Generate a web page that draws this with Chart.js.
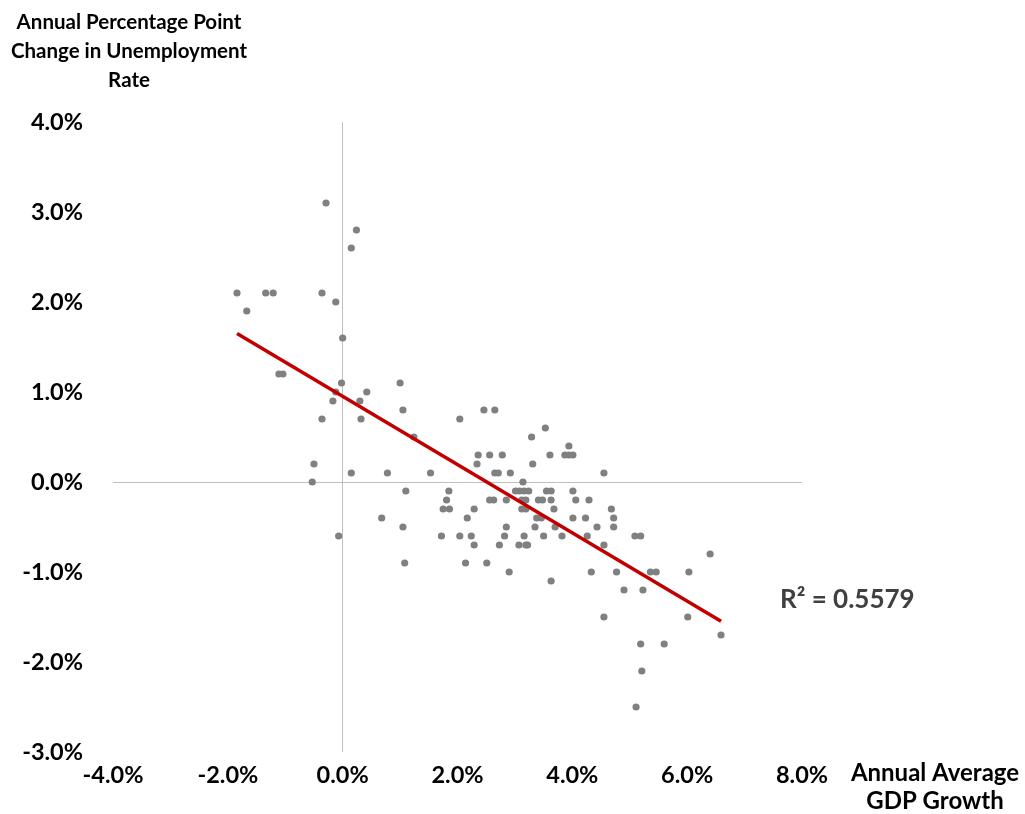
<!DOCTYPE html>
<html>
<head>
<meta charset="utf-8">
<script src="https://cdn.jsdelivr.net/npm/chart.js@4.4.1/dist/chart.umd.min.js"></script>
<style>
  html, body { margin: 0; padding: 0; background: #fff; }
  canvas { display: block; }
</style>
</head>
<body>
<canvas id="okunChart" width="1025" height="814"></canvas>
<script>
// GDP growth (%) and change in unemployment rate (pp)
const gdpGrowth = [
  -1.84, -1.67, -1.34, -1.21, -1.11, -1.04, -0.36, -0.29, -0.12, 0.0,
  0.15, 0.24, -0.02, -0.12, -0.17, 0.3, 0.42, 1.0, 1.05, -0.36,
  0.32, 1.24, -0.5, -0.53, 0.15, 0.78, 1.53, 1.1, 1.85, 1.81,
  1.75, 1.86, 0.68, 1.05, -0.07, 1.08,
  2.04, 2.46, 2.65, 3.29, 3.53, 3.94, 2.36, 2.56, 2.78, 3.61,
  3.87, 3.94, 4.01, 2.34, 3.31, 2.65, 2.71, 2.92, 4.55, 3.14,
  3.01, 3.08, 3.16, 3.24, 3.55, 3.63, 4.01, 2.56, 2.63, 2.85,
  3.12, 3.19, 3.41, 3.48, 3.63, 4.06, 4.29, 2.29, 3.12, 3.19,
  3.68, 4.68, 2.17, 3.38, 3.46, 4.01, 4.23, 4.72, 2.85, 3.35,
  3.7, 4.43, 4.72, 1.72, 2.04, 2.24, 2.82, 3.16, 3.5, 3.82,
  4.26, 5.09, 5.19, 2.29, 2.73, 3.07, 3.19, 3.22, 4.55, 2.14,
  2.51, 2.9, 4.33, 4.77, 5.36, 5.46, 6.03, 6.4, 3.63, 4.9,
  5.23, 4.55, 6.01, 5.19, 5.6, 6.59, 5.21, 5.11
];
const unempChange = [
  2.1, 1.9, 2.1, 2.1, 1.2, 1.2, 2.1, 3.1, 2.0, 1.6,
  2.6, 2.8, 1.1, 1.0, 0.9, 0.9, 1.0, 1.1, 0.8, 0.7,
  0.7, 0.5, 0.2, 0.0, 0.1, 0.1, 0.1, -0.1, -0.1, -0.2,
  -0.3, -0.3, -0.4, -0.5, -0.6, -0.9,
  0.7, 0.8, 0.8, 0.5, 0.6, 0.4, 0.3, 0.3, 0.3, 0.3,
  0.3, 0.3, 0.3, 0.2, 0.2, 0.1, 0.1, 0.1, 0.1, 0.0,
  -0.1, -0.1, -0.1, -0.1, -0.1, -0.1, -0.1, -0.2, -0.2, -0.2,
  -0.2, -0.2, -0.2, -0.2, -0.2, -0.2, -0.2, -0.3, -0.3, -0.3,
  -0.3, -0.3, -0.4, -0.4, -0.4, -0.4, -0.4, -0.4, -0.5, -0.5,
  -0.5, -0.5, -0.5, -0.6, -0.6, -0.6, -0.6, -0.6, -0.6, -0.6,
  -0.6, -0.6, -0.6, -0.7, -0.7, -0.7, -0.7, -0.7, -0.7, -0.9,
  -0.9, -1.0, -1.0, -1.0, -1.0, -1.0, -1.0, -0.8, -1.1, -1.2,
  -1.2, -1.5, -1.5, -1.8, -1.8, -1.7, -2.1, -2.5
];
const xTicks = [-4, -2, 0, 2, 4, 6, 8];
const yTicks = [-3, -2, -1, 0, 1, 2, 3, 4];
const yTitle = ['Annual Percentage Point', 'Change in Unemployment', 'Rate'];
const xTitle = ['Annual Average', 'GDP Growth'];
const rSquaredLabel = 'R\u00B2 = 0.5579';

const points = gdpGrowth.map((g, i) => ({ x: g, y: unempChange[i] }));

// least squares trend line over the data range
function linearFit(xs, ys) {
  const n = xs.length;
  const mx = xs.reduce((a, b) => a + b, 0) / n;
  const my = ys.reduce((a, b) => a + b, 0) / n;
  let sxy = 0, sxx = 0;
  xs.forEach((x, i) => { sxy += (x - mx) * (ys[i] - my); sxx += (x - mx) * (x - mx); });
  const slope = sxy / sxx;
  return { slope: slope, intercept: my - slope * mx };
}
const fit = linearFit(gdpGrowth, unempChange);
const xMin = Math.min(...gdpGrowth);
const xMax = Math.max(...gdpGrowth);
const trendPoints = [
  { x: xMin, y: fit.intercept + fit.slope * xMin },
  { x: xMax, y: fit.intercept + fit.slope * xMax }
];

const FONT = "Lato, 'Open Sans', sans-serif";
const pct = v => Number(v).toFixed(1) + '%';
const zeroLine = c => (c.tick && c.tick.value === 0) ? '#bfbfbf' : 'rgba(0,0,0,0)';

const textPlugin = {
  id: 'extraText',
  afterDraw(chart) {
    const ctx = chart.ctx;
    ctx.save();
    ctx.textAlign = 'center';
    ctx.textBaseline = 'middle';
    ctx.fillStyle = '#000';
    ctx.font = 'bold 20.5px ' + FONT;
    yTitle.forEach((line, i) => ctx.fillText(line, 129, 22 + i * 29));
    ctx.font = 'bold 24px ' + FONT;
    xTitle.forEach((line, i) => ctx.fillText(line, 935, 773 + i * 28));
    ctx.textAlign = 'left';
    ctx.fillStyle = '#404040';
    ctx.font = 'bold 26px ' + FONT;
    ctx.fillText(rSquaredLabel, 780, 600);
    ctx.restore();
  }
};

new Chart(document.getElementById('okunChart'), {
  type: 'scatter',
  data: {
    datasets: [
      {
        label: 'Trend',
        type: 'line',
        data: trendPoints,
        borderColor: '#c00000',
        borderWidth: 3.5,
        pointRadius: 0,
        fill: false,
        order: 0
      },
      {
        label: 'Years',
        data: points,
        backgroundColor: '#808080',
        borderWidth: 0,
        pointRadius: 3.6,
        order: 1
      }
    ]
  },
  options: {
    responsive: false,
    animation: false,
    layout: { padding: { top: 122, right: 223, bottom: 0, left: 0 } },
    plugins: { legend: { display: false }, tooltip: { enabled: false } },
    scales: {
      x: {
        type: 'linear',
        position: 'bottom',
        min: xTicks[0],
        max: xTicks[xTicks.length - 1],
        afterBuildTicks: s => { s.ticks = xTicks.map(v => ({ value: v })); },
        afterFit: s => { s.height = 62; },
        ticks: {
          callback: pct,
          color: '#000',
          padding: 9,
          maxRotation: 0,
          font: { family: FONT, size: 23.5, weight: 'bold' }
        },
        grid: { drawTicks: false, color: zeroLine, lineWidth: 1 },
        border: { display: false }
      },
      y: {
        type: 'linear',
        min: yTicks[0],
        max: yTicks[yTicks.length - 1],
        afterBuildTicks: s => { s.ticks = yTicks.map(v => ({ value: v })); },
        afterFit: s => { s.width = 113; },
        ticks: {
          callback: pct,
          color: '#000',
          padding: 30,
          font: { family: FONT, size: 23.5, weight: 'bold' }
        },
        grid: { drawTicks: false, color: zeroLine, lineWidth: 1 },
        border: { display: false }
      }
    }
  },
  plugins: [textPlugin]
});
</script>
</body>
</html>
